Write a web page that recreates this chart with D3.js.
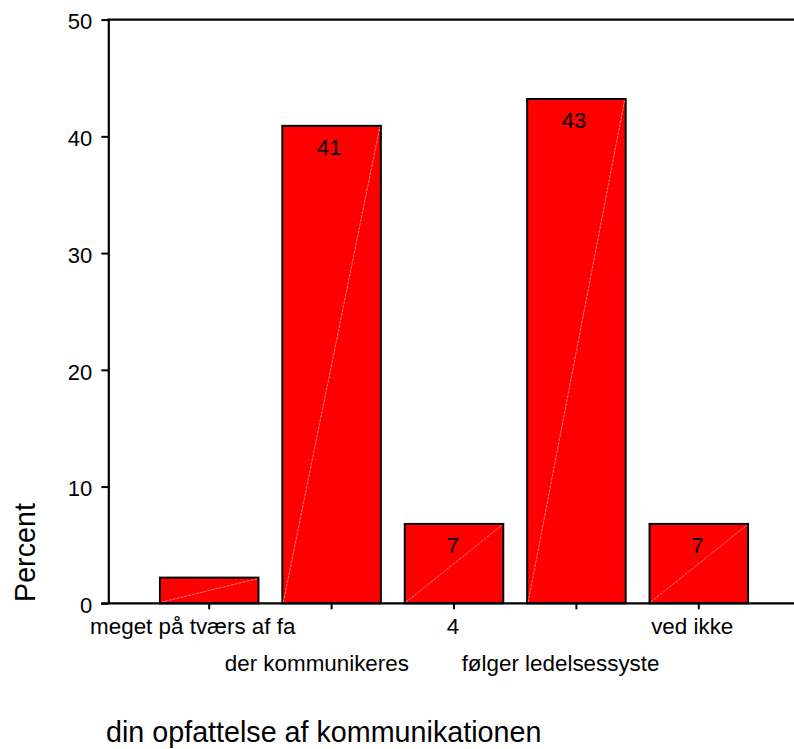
<!DOCTYPE html>
<html><head><meta charset="utf-8">
<script src="https://cdn.jsdelivr.net/npm/d3@7"></script>
<style>body{margin:0;background:#fff}</style>
</head><body><svg id="chart" width="794" height="749"></svg>
<script>
const categories = ["meget på tværs af fa", "der kommunikeres", "4", "følger ledelsessyste", "ved ikke"];
const percentValues = [2.2, 40.9, 6.8, 43.2, 6.8];
const valueLabels = ["", "41", "7", "43", "7"];
const yTickValues = [0, 10, 20, 30, 40, 50];
const yAxisTitle = "Percent";
const xAxisTitle = "din opfattelse af kommunikationen";

const font = "'Liberation Sans', Arial, Helvetica, sans-serif";
const svg = d3.select("#chart");
svg.append("rect").attr("width", 794).attr("height", 749).attr("fill", "#fff");

const axisX0 = 108.3, plotRight = 794;
const y = d3.scaleLinear().domain([0, 50]).range([603.3, 19.6]);
const x = d3.scaleBand().domain(categories).range([148, 760]).paddingInner(0.195).paddingOuter(0.0975);

// bars
const bars = svg.append("g");
bars.selectAll("rect").data(categories).join("rect")
  .attr("x", d => x(d))
  .attr("y", (d, i) => y(percentValues[i]))
  .attr("width", x.bandwidth())
  .attr("height", (d, i) => y(0) - y(percentValues[i]))
  .attr("fill", "#ff0000")
  .attr("stroke", "#000").attr("stroke-width", 2);
bars.selectAll("line.diag").data(categories).join("line").attr("class", "diag")
  .attr("x1", d => x(d) + 1).attr("y1", y(0) - 1)
  .attr("x2", d => x(d) + x.bandwidth() - 1).attr("y2", (d, i) => y(percentValues[i]) + 1)
  .attr("stroke", "rgba(255,200,200,0.8)").attr("stroke-width", 0.8).attr("stroke-dasharray", "3,1");

// value labels
svg.append("g").selectAll("text").data(categories).join("text")
  .attr("x", d => x(d) + x.bandwidth() / 2)
  .attr("y", (d, i) => y(percentValues[i]) + 29)
  .attr("text-anchor", "middle")
  .attr("font-family", font).attr("font-size", 22).attr("fill", "#000")
  .text((d, i) => valueLabels[i])
  .attr("dx", function () { return -0.1 * this.getComputedTextLength(); });

// y axis
const yAxis = d3.axisLeft(y).tickValues(yTickValues).tickSize(7).tickSizeOuter(0).tickPadding(9);
const gy = svg.append("g").attr("transform", `translate(${axisX0},0)`).call(yAxis);
gy.select(".domain").attr("stroke-width", 2.2);
gy.selectAll(".tick line").attr("stroke-width", 2);
gy.selectAll(".tick text").attr("font-family", font).attr("font-size", 22).attr("fill", "#000").attr("dy", "0.42em");

// top frame line and baseline
svg.append("line").attr("x1", axisX0 - 1).attr("x2", plotRight).attr("y1", y(50)).attr("y2", y(50))
  .attr("stroke", "#000").attr("stroke-width", 2.2);
svg.append("line").attr("x1", axisX0 - 7).attr("x2", plotRight).attr("y1", y(0)).attr("y2", y(0))
  .attr("stroke", "#000").attr("stroke-width", 2.2);

// x axis ticks
const xAxis = d3.axisBottom(x).tickSize(6).tickSizeOuter(0).tickFormat("");
const gx = svg.append("g").attr("transform", `translate(0,${y(0)})`).call(xAxis);
gx.select(".domain").remove();
gx.selectAll(".tick line").attr("stroke-width", 2);

// x category labels (staggered)
svg.append("g").selectAll("text").data(categories).join("text")
  .attr("x", d => x(d) + x.bandwidth() / 2)
  .attr("y", (d, i) => i % 2 === 0 ? 634 : 671)
  .attr("text-anchor", "middle")
  .attr("font-family", font).attr("font-size", 22.4).attr("fill", "#000")
  .text(d => d)
  .attr("dx", function () { return -0.08 * this.getComputedTextLength(); });

// axis titles
svg.append("text").attr("transform", "translate(34.5,602) rotate(-90)")
  .attr("font-family", font).attr("font-size", 28.7).attr("fill", "#000").text(yAxisTitle);
svg.append("text").attr("x", 106).attr("y", 742)
  .attr("font-family", font).attr("font-size", 28.7).attr("fill", "#000").text(xAxisTitle);
</script></body></html>
